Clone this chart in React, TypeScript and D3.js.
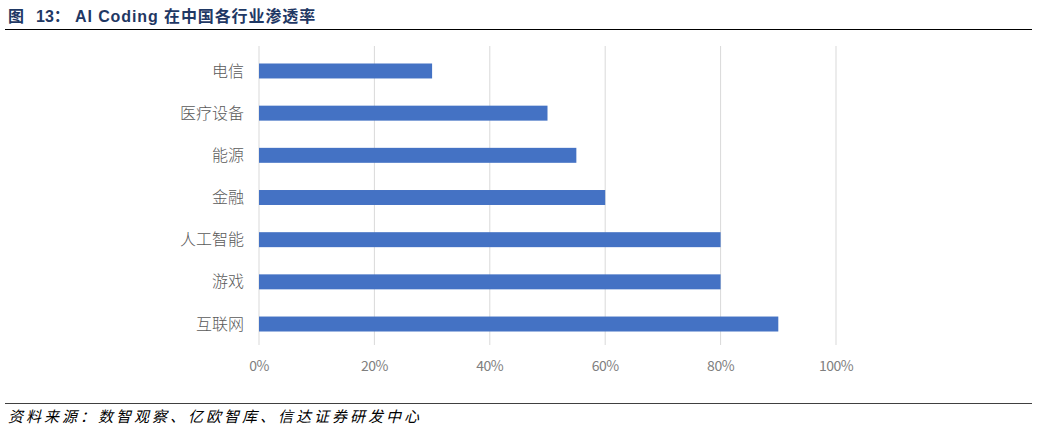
import React from "react";
import * as d3 from "d3";

const categories = ["电信", "医疗设备", "能源", "金融", "人工智能", "游戏", "互联网"];
const values = [30, 50, 55, 60, 80, 80, 90];
const ticks = [0, 20, 40, 60, 80, 100];
const titlePrefix = "图";
const titleNum = "13：";
const titleRest = "AI Coding 在中国各行业渗透率";
const source = "资料来源：数智观察、亿欧智库、信达证券研发中心";

export default function App() {
  const W = 1037, H = 431;
  const x = d3.scaleLinear().domain([0, 100]).range([259, 836]);
  const y = d3.scaleBand().domain(categories).range([50, 345]).paddingInner(0.645).paddingOuter(0.32);
  const font = "'Noto Sans CJK SC', 'Noto Sans', sans-serif";
  const tfont = "'Liberation Sans', 'Noto Sans CJK SC', sans-serif";
  return (
    <svg width={W} height={H} style={{ position: "absolute", left: 0, top: 0 }}>
      <rect width={W} height={H} fill="#fff" />
      <text y={22} fontFamily={tfont} fontWeight="bold" fontSize={16} fill="#1f3864">
        <tspan x={8}>{titlePrefix}</tspan>
        <tspan x={36}>{titleNum}</tspan>
        <tspan x={75} style={{ letterSpacing: "0.9px" }}>{titleRest}</tspan>
      </text>
      <line x1={5} x2={1032} y1={29.5} y2={29.5} stroke="#000" strokeWidth={1} />
      {ticks.map(t => (
        <line key={t} x1={x(t)} x2={x(t)} y1={46} y2={345} stroke="#d9d9d9" strokeWidth={1} />
      ))}
      {categories.map((c, i) => (
        <g key={c}>
          <rect x={x(0)} y={y(c)} width={x(values[i]) - x(0)} height={y.bandwidth()} fill="#4472c4" />
          <text x={244} y={(y(c) as number) + y.bandwidth() / 2} dy="0.35em" textAnchor="end" fontFamily={font} fontWeight={300} fontSize={16} fill="#595959">{c}</text>
        </g>
      ))}
      {ticks.map(t => (
        <text key={t} x={x(t)} y={371} textAnchor="middle" fontFamily={font} fontSize={14} fill="#7f7f7f" style={{ letterSpacing: "-0.5px" }}>{t}%</text>
      ))}
      <line x1={5} x2={1032} y1={403.5} y2={403.5} stroke="#404040" strokeWidth={1} />
      <text x={8} y={422} fontFamily={font} fontStyle="italic" fontSize={15} fill="#000" style={{ letterSpacing: "3px" }}>{source}</text>
    </svg>
  );
}
